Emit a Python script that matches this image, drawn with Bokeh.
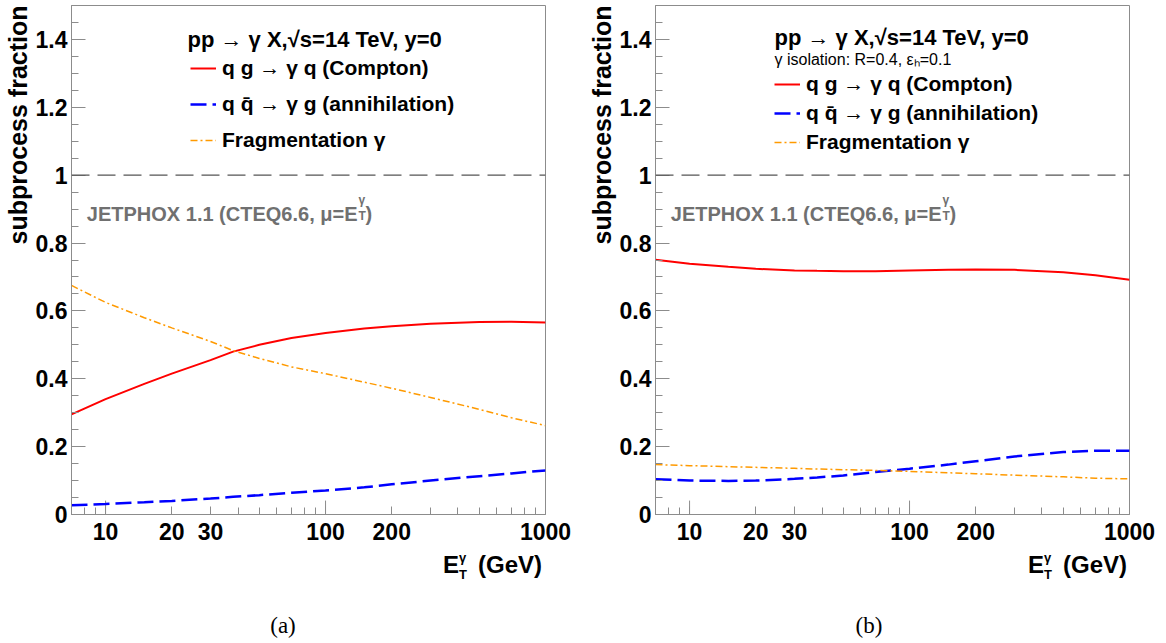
from bokeh.plotting import figure
from bokeh.layouts import row, column
from bokeh.models import (FixedTicker, BasicTickFormatter, Span, Label, Legend,
                          LegendItem, Range1d, Div, Title)
from bokeh.embed import file_html
from bokeh.resources import INLINE

# photon transverse energy E_T (GeV)
et = [7, 10, 15, 20, 30, 38, 50, 70, 100, 150, 200, 300, 500, 700, 1000]

# (a) inclusive photons: subprocess fractions
compton_a = [0.295, 0.340, 0.385, 0.415, 0.455, 0.480, 0.500, 0.520, 0.535,
             0.548, 0.555, 0.562, 0.567, 0.568, 0.566]
annih_a = [0.027, 0.031, 0.036, 0.040, 0.047, 0.052, 0.057, 0.064, 0.071,
           0.080, 0.089, 0.100, 0.113, 0.121, 0.130]
frag_a = [0.675, 0.625, 0.580, 0.550, 0.510, 0.483, 0.460, 0.435, 0.415,
          0.390, 0.372, 0.345, 0.310, 0.285, 0.262]

# (b) isolated photons: subprocess fractions
compton_b = [0.751, 0.739, 0.730, 0.724, 0.719, 0.718, 0.717, 0.717, 0.719,
             0.721, 0.722, 0.721, 0.714, 0.705, 0.692]
annih_b = [0.104, 0.100, 0.099, 0.100, 0.105, 0.109, 0.115, 0.125, 0.135,
           0.147, 0.157, 0.171, 0.184, 0.188, 0.188]
frag_b = [0.147, 0.144, 0.141, 0.139, 0.136, 0.134, 0.132, 0.130, 0.127,
          0.123, 0.120, 0.116, 0.111, 0.107, 0.105]

# axis ticks
x_major = [10, 20, 30, 100, 200, 1000]
x_decades = [10, 100, 1000]
x_minor = [8, 9, 40, 50, 60, 70, 80, 90, 300, 400, 500, 600, 700, 800, 900]
y_major = [0, 0.2, 0.4, 0.6, 0.8, 1, 1.2, 1.4]
y_minor = [round(0.05 * i, 2) for i in range(31)]

series_labels = ["q g \u2192 \u03b3 q (Compton)",
                 "q q\u0304 \u2192 \u03b3 g (annihilation)",
                 "Fragmentation \u03b3"]
process_title = "pp \u2192 \u03b3 X,\u221as=14 TeV, y=0"
isolation_text = "\u03b3 isolation: R=0.4, \u03b5\u2095=0.1"
y_title = "subprocess fraction"

SANS = "Liberation Sans"
FRAME = "#8c8c8c"
RED = "#ff0000"
BLUE = "#0000ff"
ORANGE = "#ff9a00"
GREY_TEXT = "#707070"
DECADE_TICK = 0.041   # length of the decade tick marks, in y units


def text(p, x, y, s, size, style="bold", color="black", align="left",
         baseline="alphabetic", font=SANS):
    p.add_layout(Label(x=x, y=y, x_units="screen", y_units="screen", text=s,
                       text_font=font, text_font_size=f"{size}px",
                       text_font_style=style, text_color=color,
                       text_align=align, text_baseline=baseline))


def make_panel(compton, annih, frag, isolated, left, right):
    p = figure(width=583, height=549, x_axis_type="log",
               x_range=Range1d(7, 1000), y_range=Range1d(0, 1.5),
               output_backend="svg", toolbar_location=None, tools="",
               min_border_left=left, min_border_right=right,
               min_border_top=5, min_border_bottom=35)
    p.grid.visible = False
    p.outline_line_color = FRAME
    p.outline_line_width = 1

    xa = p.xaxis[0]
    xa.ticker = FixedTicker(ticks=x_major, minor_ticks=x_minor)
    xa.formatter = BasicTickFormatter()
    ya = p.yaxis[0]
    ya.ticker = FixedTicker(ticks=y_major, minor_ticks=y_minor)
    ya.formatter = BasicTickFormatter(precision=1)
    ya.major_label_overrides = {0: "0", 1: "1"}
    for ax in (xa, ya):
        ax.axis_line_color = FRAME
        ax.major_tick_line_color = FRAME
        ax.minor_tick_line_color = FRAME
        ax.major_tick_out = 0
        ax.minor_tick_out = 0
        ax.minor_tick_in = 7
        ax.major_label_text_font = SANS
        ax.major_label_text_font_style = "bold"
        ax.major_label_text_font_size = "23px"
        ax.major_label_text_color = "black"
    xa.major_tick_in = 8
    ya.major_tick_in = 14
    xa.major_label_standoff = 8
    ya.major_label_standoff = 4

    # y-axis title, flush with the top of the frame
    p.add_layout(Title(text=y_title, align="right", standoff=2,
                       text_font=SANS, text_font_style="bold",
                       text_font_size="25px", text_color="black"), "left")

    # longer tick marks at each decade of E_T
    p.segment(x0=x_decades, y0=0, x1=x_decades, y1=DECADE_TICK,
              line_color=FRAME, line_width=1)

    # unit line
    p.add_layout(Span(location=1, dimension="width", line_color="#555555",
                      line_width=1.2, line_dash="18 8"))

    r_c = p.line(et, compton, line_color=RED, line_width=2)
    r_a = p.line(et, annih, line_color=BLUE, line_width=2.5, line_dash="16 6")
    r_f = p.line(et, frag, line_color=ORANGE, line_width=1.5,
                 line_dash="7 3 2 3")

    if isolated:
        spacing, loc = 5, (119, 360)
        text(p, 119, 477, process_title, 22)
        text(p, 119, 455, isolation_text, 16, style="normal")
    else:
        spacing, loc = 12, (119, 362)
        text(p, 116, 475, process_title, 22)

    legend = Legend(
        items=[LegendItem(label=series_labels[0], renderers=[r_c]),
               LegendItem(label=series_labels[1], renderers=[r_a]),
               LegendItem(label=series_labels[2], renderers=[r_f])],
        location=loc, padding=0, margin=0, spacing=spacing,
        glyph_width=26, glyph_height=24, label_height=24, label_standoff=6,
        border_line_alpha=0, background_fill_alpha=0,
        label_text_font=SANS, label_text_font_style="bold",
        label_text_font_size="21px", label_text_color="black")
    p.add_layout(legend)

    # generator tag: JETPHOX 1.1 (CTEQ6.6, mu = E_T^gamma)
    text(p, 286, 301, "JETPHOX 1.1 (CTEQ6.6, \u03bc=E", 20, color=GREY_TEXT,
         align="right")
    text(p, 287, 315, "\u03b3", 12, color=GREY_TEXT)
    text(p, 287, 299, "T", 12, color=GREY_TEXT)
    text(p, 294, 301, ")", 20, color=GREY_TEXT)
    return p


def footer(caption, title_right, caption_left):
    # x-axis title E_T^gamma (GeV) flush right under the frame, then the caption
    html = (
        '<div style="position:relative;width:583px;height:94px;">'
        f'<div style="position:absolute;right:{title_right}px;top:0px;'
        'font-family:\'Liberation Sans\';font-weight:bold;font-size:24px;'
        'line-height:24px;white-space:nowrap;color:#000;">'
        'E<span style="display:inline-block;font-size:13px;line-height:17px;'
        'vertical-align:-6px;margin-right:11px;text-align:left;">'
        '\u03b3<br>T</span>(GeV)</div>'
        f'<div style="position:absolute;left:{caption_left}px;top:65px;'
        'width:50px;text-align:center;font-family:\'Liberation Serif\';'
        f'font-size:23px;line-height:23px;color:#000;">{caption}</div>'
        '</div>'
    )
    return Div(text=html, width=583, height=94, margin=0)


p_a = make_panel(compton_a, annih_a, frag_a, False, 71, 38)
p_b = make_panel(compton_b, annih_b, frag_b, True, 72, 37)

layout = column(row(p_a, p_b, spacing=0),
                row(footer("(a)", 41, 258), footer("(b)", 39, 261), spacing=0),
                spacing=0)
open("out.html", "w").write(file_html(layout, INLINE))
